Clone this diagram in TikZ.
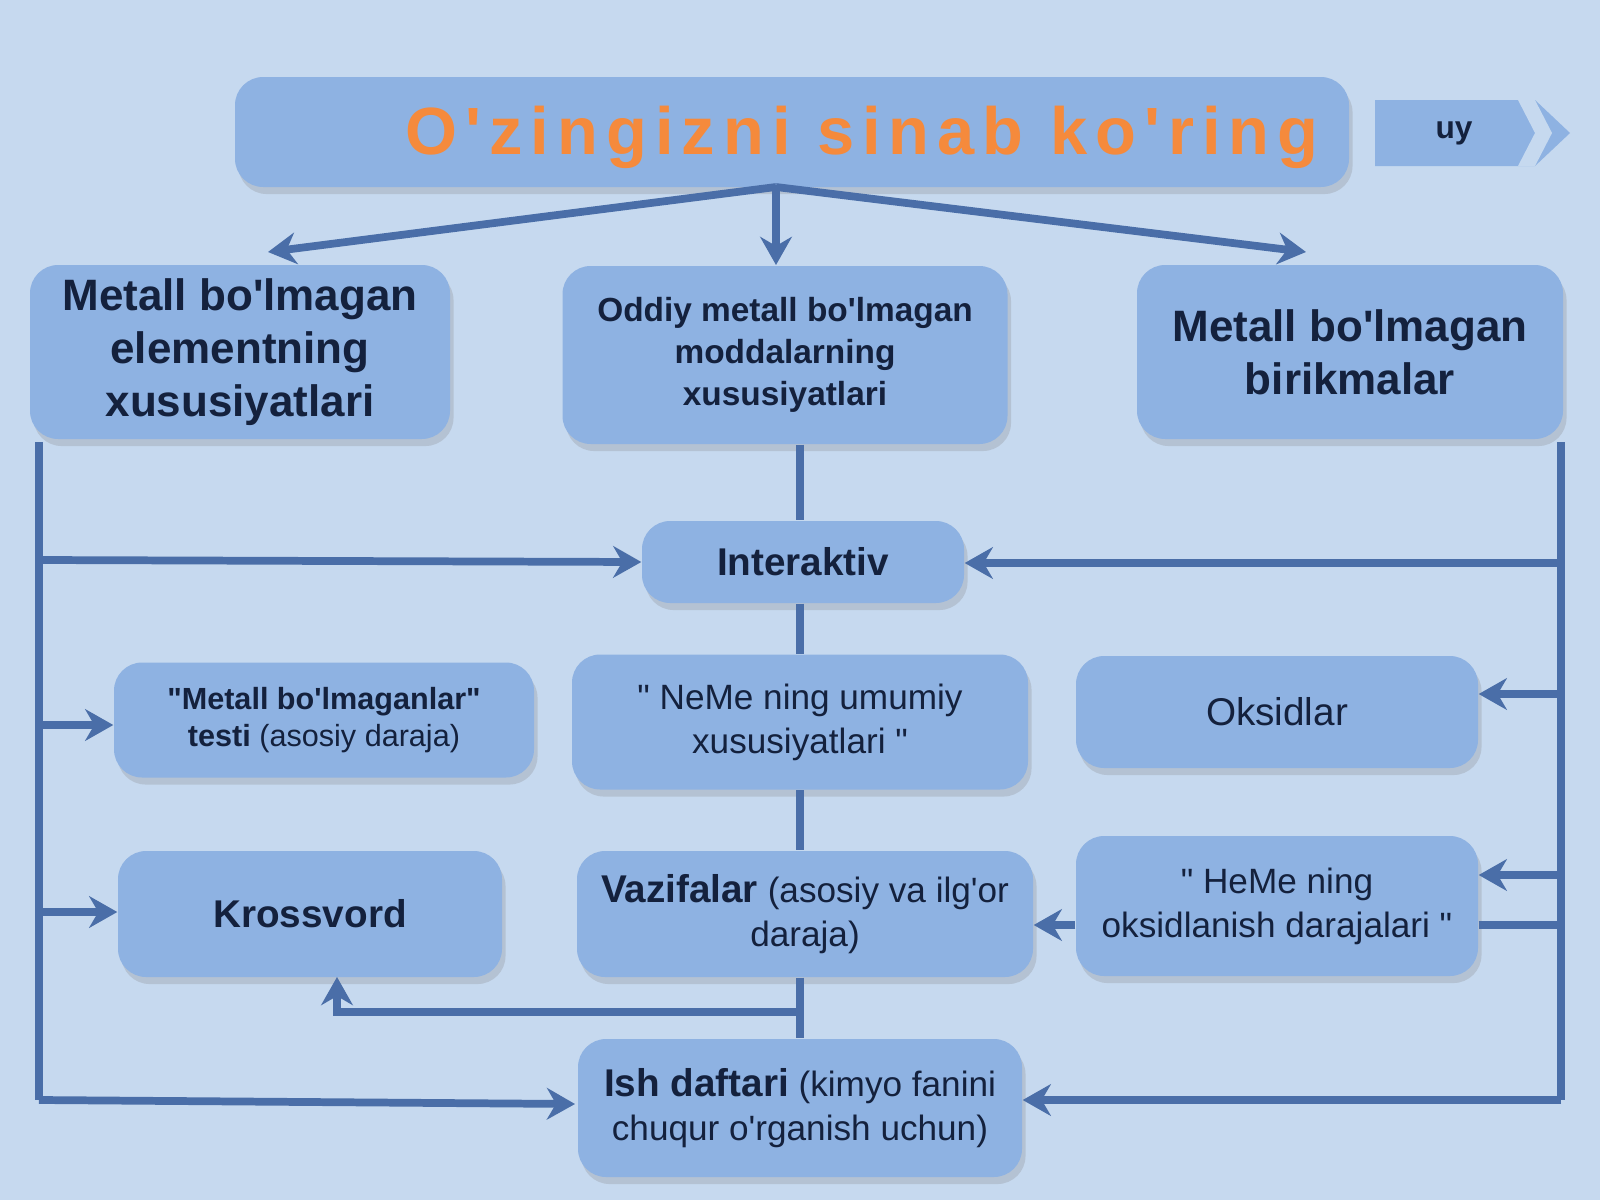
\documentclass[tikz,border=0pt]{standalone}
\usepackage{fontspec}
\setmainfont{Liberation Sans}[Ligatures=TeXOff]
\usetikzlibrary{shadows,arrows.meta}
\definecolor{bg}{HTML}{C6D9EF}
\definecolor{boxf}{HTML}{8EB2E2}
\definecolor{ln}{HTML}{4A6EA8}
\definecolor{txt}{HTML}{14213D}
\definecolor{org}{HTML}{F58A3C}
\tikzset{
 bx/.style={fill=boxf,rounded corners=8pt,text=txt,align=center,inner sep=0pt,
   drop shadow={shadow xshift=1pt,shadow yshift=-2pt,opacity=0.25}},
 cn/.style={draw=ln,line width=2.2pt},
 ar/.style={cn,-{Stealth[length=8pt,width=9pt]}},
}
\newcommand{\bxn}[7]{\node[bx,font=#6,minimum width=#4*0.01cm,minimum height=#5*0.01cm] (#1) at (#2*0.01cm,-#3*0.01cm) {#7};}
\begin{document}
\begin{tikzpicture}[x=0.01cm,y=-0.01cm]
\fill[bg] (0,0) rectangle (1600,1200);
\useasboundingbox (0,0) rectangle (1600,1200);
% title
\node[bx,minimum width=1114*0.01cm,minimum height=110*0.01cm] (T) at (792,132) {};
\node[text=org,font=\fontsize{19}{22}\selectfont\bfseries] (tt) at (862,137) {\addfontfeature{LetterSpace=12}O'zingizni sinab ko'ring};
\fill[boxf] (1375,100) -- (1535,100) -- (1570,133) -- (1535,166) -- (1375,166) -- cycle;
\fill[bg] (1518,100) -- (1535,100) -- (1552,133) -- (1535,166) -- (1518,166) -- (1535,133) -- cycle;
\node[text=txt,font=\fontsize{9}{10}\selectfont\bfseries] (uy) at (1454,133) {uy};
% level 1
\bxn{A}{240}{352}{420}{174}{\fontsize{12.5}{15}\selectfont\bfseries}{Metall bo'lmagan\\elementning\\xususiyatlari}
\bxn{B}{785}{355}{445}{178}{\fontsize{9.5}{12}\selectfont\bfseries}{Oddiy metall bo'lmagan\\moddalarning\\xususiyatlari}
\bxn{C}{1350}{352}{426}{174}{\fontsize{12.5}{15}\selectfont\bfseries}{Metall bo'lmagan\\birikmalar}
\bxn{I}{803}{562}{322}{82}{\fontsize{11}{13}\selectfont\bfseries}{Interaktiv}
\bxn{Te}{324}{720}{420}{115}{\fontsize{8.7}{10.5}\selectfont}{\textbf{"Metall bo'lmaganlar"}\\\textbf{testi} (asosiy daraja)}
\bxn{Ne}{800}{722}{456}{135}{\fontsize{10}{12.5}\selectfont}{" NeMe ning umumiy\\xususiyatlari "}
\bxn{Ok}{1277}{712}{402}{112}{\fontsize{11}{13}\selectfont}{Oksidlar}
\bxn{Kr}{310}{914}{384}{126}{\fontsize{11}{13}\selectfont\bfseries}{Krossvord}
\bxn{Va}{805}{914}{456}{126}{\fontsize{10}{12.5}\selectfont}{\textbf{\fontsize{11}{13}\selectfont Vazifalar} (asosiy va ilg'or\\daraja)}
\bxn{He}{1277}{906}{402}{140}{\fontsize{10}{12.5}\selectfont}{" HeMe ning\\oksidlanish darajalari "}
\bxn{Is}{800}{1108}{444}{138}{\fontsize{10}{12.5}\selectfont}{\textbf{\fontsize{11}{13}\selectfont Ish daftari} (kimyo fanini\\chuqur o'rganish uchun)}
% connectors
\coordinate (t0) at (776,187);
\draw[ar] (t0) -- (268,252);
\draw[ar] (t0) -- (776,265);
\draw[ar] (t0) -- (1306,252);
\draw[cn] (B.south -| 800,0) -- (I.north -| 800,0);
\draw[cn] (I.south -| 800,0) -- (Ne.north -| 800,0);
\draw[cn] (Ne.south -| 800,0) -- (Va.north -| 800,0);
\draw[cn] (Va.south -| 800,0) -- (Is.north -| 800,0);
\coordinate (k1) at (800,1012);
\draw[ar] (k1) -- (337,1012) -- (337,977);
% left bus
\coordinate (L0) at (39,442); \coordinate (L1) at (39,1100);
\draw[cn] (L0) -- (L1);
\draw[ar] (L1) -- (575,1104);
\draw[ar] (39,560) -- (I.west);
\draw[ar] (39,725) -- (Te.west |- 0,725);
\draw[ar] (39,912) -- (Kr.west |- 0,912);
% right bus
\coordinate (R0) at (1561,442); \coordinate (R1) at (1561,1100);
\draw[cn] (R0) -- (R1);
\draw[ar] (R1) -- (Is.east |- 0,1100);
\draw[ar] (1561,563) -- (I.east |- 0,563);
\draw[ar] (1561,694) -- (Ok.east |- 0,694);
\draw[ar] (1561,875) -- (He.east |- 0,875);
\draw[cn] (He.east |- 0,925) -- (1561,925);
\draw[ar] (He.west |- 0,925) -- (Va.east |- 0,925);
\end{tikzpicture}
\end{document}
